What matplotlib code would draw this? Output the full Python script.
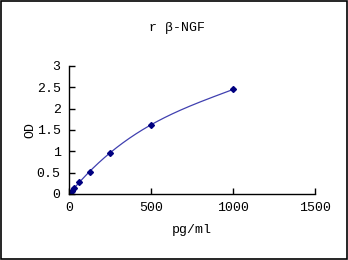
import numpy as np
import matplotlib
matplotlib.use("Agg")
import matplotlib.pyplot as plt

conc = [0, 7.8, 15.6, 31.25, 62.5, 125, 250, 500, 1000]
od = [0.0, 0.03, 0.07, 0.13, 0.27, 0.52, 0.97, 1.62, 2.45]
xticks = [0, 500, 1000, 1500]
yticks = [0, 0.5, 1, 1.5, 2, 2.5, 3]
ytick_labels = ["0", "0.5", "1", "1.5", "2", "2.5", "3"]

plt.rcParams['font.family'] = ['Liberation Mono', 'DejaVu Sans']

fig = plt.figure(figsize=(3.48, 2.6), dpi=100)
fig.patch.set_facecolor('white')
fig.patches.append(plt.Rectangle((0.0015, 0.002), 0.996, 0.995, transform=fig.transFigure,
                                 fill=False, edgecolor='black', linewidth=1.2))
ax = fig.add_axes([69/348, 1-194/260, (315-69)/348, (194-66)/260])

coef = np.polyfit(conc, od, 3)
xs = np.linspace(0, 1000, 300)
ax.plot(xs, np.polyval(coef, xs), color='#4040B0', linewidth=0.9)
ax.plot(conc, od, linestyle='none', marker='D', markersize=3.0, color='#000080')

ax.set_xlim(0, 1500)
ax.set_ylim(0, 3)
ax.set_xticks(xticks)
ax.set_xticklabels([str(v) for v in xticks])
ax.set_yticks(yticks)
ax.set_yticklabels(ytick_labels)
for s in ['top', 'right']:
    ax.spines[s].set_visible(False)
for s in ['left', 'bottom']:
    ax.spines[s].set_linewidth(1.0)
ax.tick_params(direction='in', length=4, width=1, labelsize=9.5, pad=6)
ax.set_xlabel('pg/ml', fontsize=9.5, labelpad=7)
ax.set_ylabel('OD', fontsize=9.5, labelpad=0)
fig.text(177/348, 1-28/260, 'r β-NGF', ha='center', va='center', fontsize=9.5)

fig.savefig('out.png', dpi=100)
